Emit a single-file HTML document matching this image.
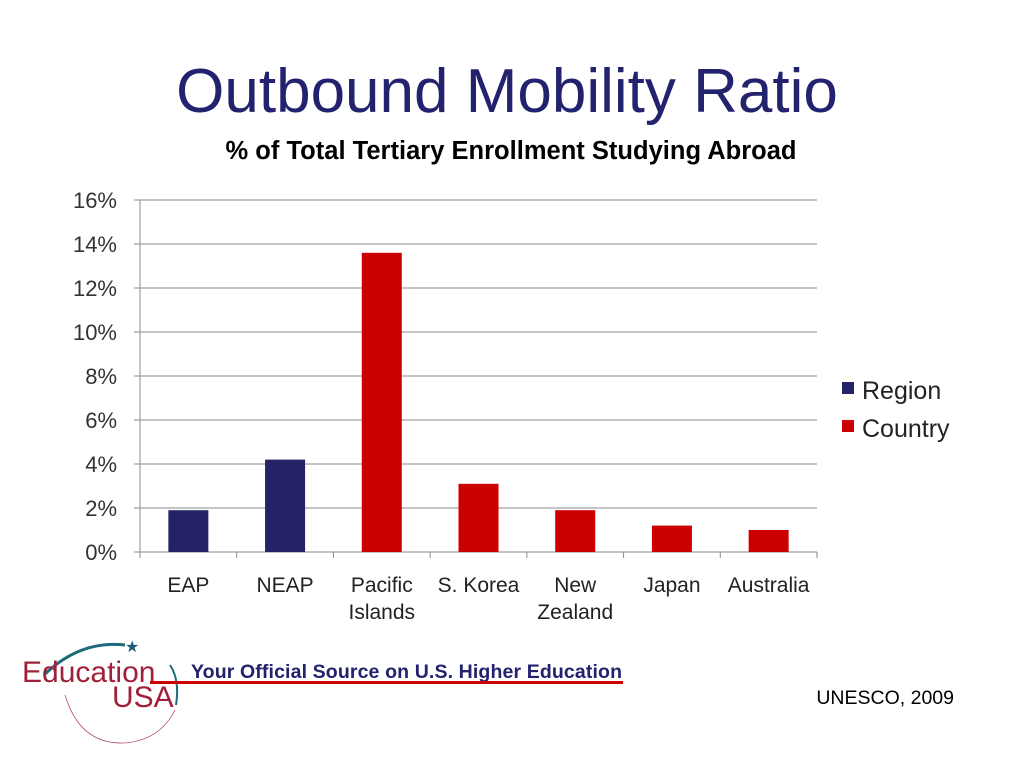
<!DOCTYPE html>
<html><head><meta charset="utf-8"><style>
body{margin:0;background:#fff;width:1024px;height:768px;overflow:hidden;font-family:"Liberation Sans",sans-serif}
</style></head><body>
<svg width="1024" height="768" font-family="Liberation Sans, sans-serif">
<text x="507" y="112" text-anchor="middle" font-size="62" fill="#22226e">Outbound Mobility Ratio</text>
<text x="511" y="159" text-anchor="middle" font-size="25.5" font-weight="bold" fill="#000" textLength="571">% of Total Tertiary Enrollment Studying Abroad</text>
<g id="grid"></g><g id="bars"></g><g id="xl"></g>
<g>
<rect x="842" y="382" width="12" height="12" fill="#232366"/>
<text x="862" y="399" font-size="25" fill="#222">Region</text>
<rect x="842" y="420" width="12" height="12" fill="#cc0000"/>
<text x="862" y="437" font-size="25" fill="#222">Country</text>
</g>
<g>
<path d="M44 675 Q80 640 125 645" stroke="#1d6a7a" stroke-width="3" fill="none"/>
<text x="125" y="652" font-size="16" fill="#1d5b7a">★</text>
<text x="22" y="682" font-size="30" fill="#a0203a">Education</text>
<text x="112" y="707" font-size="30" fill="#a0203a">USA</text>
<path d="M65 695 Q80 745 125 743 Q160 740 175 710" stroke="#a0203a" stroke-width="0.6" fill="none"/>
<path d="M170 665 Q180 680 176 705" stroke="#1d6a7a" stroke-width="2" fill="none"/>
</g>
<text x="191" y="678" font-size="19.5" font-weight="bold" fill="#22226e" textLength="431">Your Official Source on U.S. Higher Education</text>
<rect x="150" y="681" width="473" height="3" fill="#cc0000"/>
<text x="954" y="704" text-anchor="end" font-size="19.5" fill="#000">UNESCO, 2009</text>
</svg>
<script>
const categories=[["EAP"],["NEAP"],["Pacific","Islands"],["S. Korea"],["New","Zealand"],["Japan"],["Australia"]];
const values=[1.9,4.2,13.6,3.1,1.9,1.2,1.0];
const seriesType=["region","region","country","country","country","country","country"];
const yTicks=[0,2,4,6,8,10,12,14,16];
const NS="http://www.w3.org/2000/svg";
const x0=140,x1=817,yb=552,yt=200,ymax=16;
const y=v=>yb-(v/ymax)*(yb-yt);
const band=(x1-x0)/categories.length;
const xc=i=>x0+band*(i+0.5);
function mk(t,a,p){const e=document.createElementNS(NS,t);for(const k in a)e.setAttribute(k,a[k]);p.appendChild(e);return e;}
const g=document.getElementById('grid'),b=document.getElementById('bars'),xl=document.getElementById('xl');
yTicks.forEach(t=>{
 const l=mk('line',{x1:x0-6,x2:x1,y1:y(t),y2:y(t),stroke:'#8a8a8a','stroke-width':1},g);
 
 
 const tx=mk('text',{x:117,y:y(t)+8,'text-anchor':'end','font-size':22,fill:'#333'},g);
 tx.textContent=t+'%';
 
 
});
const ax=mk('line',{x1:x0,x2:x0,y1:yt,y2:yb,stroke:'#8a8a8a'},g);


for(let i=0;i<=categories.length;i++){const tk=mk('line',{x1:x0+band*i,x2:x0+band*i,y1:yb,y2:yb+6,stroke:'#8a8a8a'},g);
 
 }
const bw=40;
values.forEach((v,i)=>{
 const r=mk('rect',{x:xc(i)-bw/2,y:y(v),width:bw,height:yb-y(v),fill:seriesType[i]==='region'?'#232366':'#cc0000'},b);
 
 
 categories[i].forEach((s,j)=>{
  const t=mk('text',{x:xc(i),y:592+27*j,'text-anchor':'middle','font-size':21,fill:'#222'},xl);
  t.textContent=s;
  
  
 });
});
</script>
</body></html>
